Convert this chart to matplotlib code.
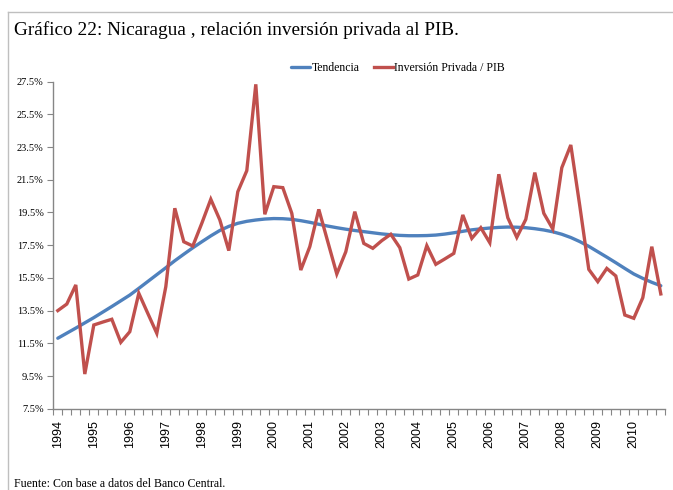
import numpy as np
import matplotlib
matplotlib.use("Agg")
import matplotlib.pyplot as plt
from matplotlib.lines import Line2D

# quarterly series 1994Q1 .. 2010Q4 (percent of GDP)
years = list(range(1994, 2011))
inversion = [13.5, 13.9, 15.07, 9.62, 12.62, 12.8, 12.97, 11.56,
             12.21, 14.56, 13.33, 12.11, 14.96, 19.76, 17.71, 17.45,
             18.84, 20.31, 19.05, 17.17, 20.77, 22.06, 27.34, 19.39,
             21.08, 21.02, 19.45, 15.98, 17.41, 19.69, 17.71, 15.74,
             17.1, 19.55, 17.61, 17.31, 17.78, 18.17, 17.35, 15.43,
             15.68, 17.47, 16.33, 16.66, 17.0, 19.35, 17.92, 18.57,
             17.65, 21.84, 19.18, 17.98, 19.08, 21.94, 19.45, 18.49,
             22.24, 23.63, 19.9, 16.02, 15.27, 16.08, 15.62, 13.23,
             13.03, 14.29, 17.41, 14.52]
tendencia = [11.81, 12.12, 12.43, 12.75, 13.07, 13.41, 13.75, 14.10,
             14.45, 14.86, 15.28, 15.70, 16.12, 16.55, 16.95, 17.34,
             17.71, 18.07, 18.40, 18.65, 18.84, 18.96, 19.04, 19.10,
             19.13, 19.12, 19.08, 19.00, 18.90, 18.78, 18.67, 18.57,
             18.48, 18.40, 18.33, 18.26, 18.19, 18.14, 18.10, 18.08,
             18.08, 18.09, 18.12, 18.18, 18.26, 18.35, 18.44, 18.50,
             18.55, 18.59, 18.61, 18.60, 18.57, 18.51, 18.43, 18.32,
             18.17, 17.97, 17.72, 17.43, 17.10, 16.77, 16.43, 16.08,
             15.74, 15.47, 15.23, 15.02]
yticks = [7.5, 9.5, 11.5, 13.5, 15.5, 17.5, 19.5, 21.5, 23.5, 25.5, 27.5]

W, H = 673, 490
fig = plt.figure(figsize=(W / 100, H / 100), dpi=100)
ax = fig.add_axes([53.3 / W, 1 - 408.7 / H, 612 / W, 327 / H])

x = np.arange(len(inversion))
ax.plot(x, tendencia, color="#4F81BD", lw=2.4, label="Tendencia", solid_capstyle="round")
ax.plot(x, inversion, color="#C0504D", lw=2.4, label="Inversión Privada / PIB",
        solid_joinstyle="miter")

ax.set_xlim(-0.5, len(inversion) - 0.5)
ax.set_ylim(7.5, 27.5)
ax.set_yticks(yticks)
ax.set_yticklabels(["%.1f%%" % v for v in yticks], fontsize=7.5, family="Liberation Serif")
ax.set_xticks(np.arange(0, len(inversion), 4))
ax.set_xticklabels([str(y) for y in years], rotation=90, fontsize=9,
                   family="Liberation Sans", va="top")
ax.set_xticks(np.arange(-0.5, len(inversion), 1), minor=True)
ax.tick_params(axis="x", which="major", length=0, pad=8)
ax.tick_params(axis="x", which="minor", length=4, color="#868686", width=0.8)
ax.tick_params(axis="y", length=4, color="#868686", width=0.8, pad=3)

for s in ["top", "right"]:
    ax.spines[s].set_visible(False)
for s in ["left", "bottom"]:
    ax.spines[s].set_color("#868686")
    ax.spines[s].set_linewidth(1)

fig.legend(loc="center", bbox_to_anchor=(398 / W, 1 - 68 / H), ncol=2, frameon=False,
           prop={"family": "Liberation Serif", "size": 8.5}, handlelength=1.6,
           handletextpad=0.1, columnspacing=1.2)

fig.text(14 / W, 1 - 30 / H, "Gráfico 22: Nicaragua , relación inversión privada al PIB.",
         family="Liberation Serif", fontsize=13.9, va="center", ha="left")
fig.text(14 / W, 1 - 484 / H, "Fuente: Con base a datos del Banco Central.",
         family="Liberation Serif", fontsize=8.6, va="center", ha="left")

# outer frame (top and left edges visible)
fig.add_artist(Line2D([8 / W, 1], [1 - 12 / H, 1 - 12 / H], transform=fig.transFigure,
                      color="#BFBFBF", lw=1))
fig.add_artist(Line2D([8 / W, 8 / W], [0, 1 - 12 / H], transform=fig.transFigure,
                      color="#BFBFBF", lw=1))

fig.savefig("out.png", dpi=100)
